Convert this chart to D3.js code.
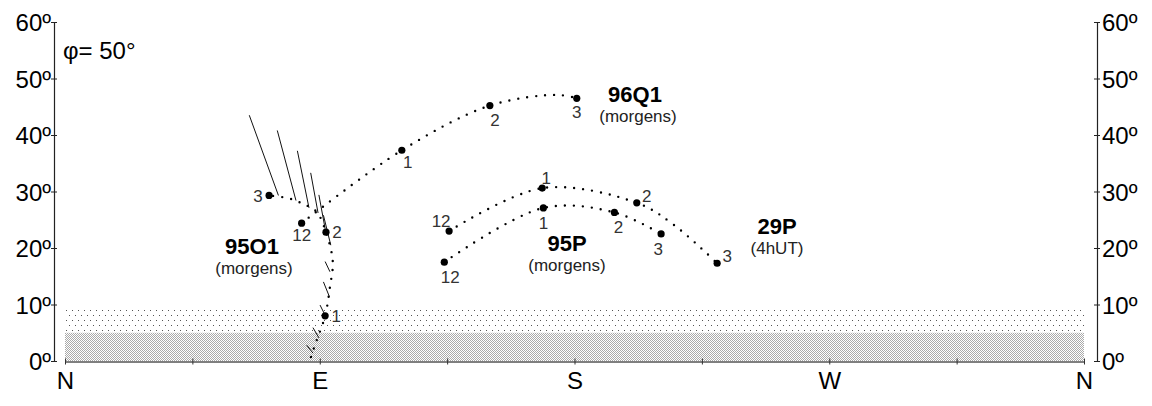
<!DOCTYPE html>
<html>
<head>
<meta charset="utf-8">
<script src="https://cdn.jsdelivr.net/npm/d3@7/dist/d3.min.js"></script>
<style>
  html, body { margin: 0; padding: 0; background: #fff; }
  svg { display: block; }
  text { font-family: "Liberation Sans", Arial, sans-serif; }
</style>
</head>
<body>
<svg id="chart" width="1152" height="406"></svg>
<script>
// Horizon axes
const azimuthTicks  = [0, 45, 90, 135, 180, 225, 270, 315, 360];
const compassLabels = ["N", "", "E", "", "S", "", "W", "", "N"];
const altitudeTicks = [0, 10, 20, 30, 40, 50, 60];

// Horizon haze bands (altitude, degrees)
const hazeDense = [0, 5];
const hazeLight = [5, 9.5];

// Comet tracks: azimuth / altitude (degrees), month marks ("" = no mark)
const q1Az   = [83.6, 119.0, 150.1, 173.7, 180.8];
const q1Alt  = [24.4, 37.3, 45.2, 47.1, 46.5];
const q1Mark = ["12", "1", "2", "", "3"];

const o1Az   = [86.9, 88.3, 91.9, 93.6, 94.6, 92.2, 88.9, 84.2, 78.9, 72.1];
const o1Alt  = [0.7, 2.8, 8.0, 13.1, 17.6, 22.8, 26.4, 27.8, 28.8, 29.3];
const o1Mark = ["", "", "1", "", "", "2", "", "", "", "3"];

const p29Az   = [135.7, 168.6, 202.0, 215.1, 230.4];
const p29Alt  = [23.0, 30.6, 28.0, 24.1, 17.3];
const p29Mark = ["12", "1", "2", "", "3"];

const p95Az   = [134.0, 169.0, 194.1, 210.6];
const p95Alt  = [17.5, 27.1, 26.3, 22.5];
const p95Mark = ["12", "1", "2", "3"];

// Tail of 95O1: base and tip of each tail line (azimuth / altitude)
const tailBaseAz  = [75.4, 81.6, 86.2, 89.4, 91.9, 93.9, 93.6, 93.4, 91.5, 89.7, 87.6];
const tailBaseAlt = [29.3, 28.4, 27.1, 26.2, 23.4, 20.5, 15.8, 11.4, 8.5, 4.1, 1.4];
const tailTipAz   = [65.1, 75.0, 82.1, 86.8, 89.7, 91.3, 91.9, 91.3, 90.1, 87.6, 85.4];
const tailTipAlt  = [43.5, 40.8, 37.2, 33.3, 29.4, 25.8, 17.6, 14.0, 9.9, 5.9, 2.8];

const svg = d3.select("#chart");
const x = d3.scaleLinear().domain([0, 360]).range([65, 1084]);
const y = d3.scaleLinear().domain([0, 60]).range([361, 22]);

// fill patterns for the haze bands
const defs = svg.append("defs");
const pDense = defs.append("pattern").attr("id", "dense")
  .attr("patternUnits", "userSpaceOnUse").attr("width", 2).attr("height", 2);
[[0, 0], [1, 1]].forEach(([px, py]) =>
  pDense.append("rect").attr("x", px).attr("y", py).attr("width", 1).attr("height", 1)
    .attr("fill", "#aaa").attr("shape-rendering", "crispEdges"));
const pLight = defs.append("pattern").attr("id", "light")
  .attr("patternUnits", "userSpaceOnUse").attr("width", 6).attr("height", 10);
pLight.append("rect").attr("x", 0).attr("y", 0).attr("width", 1).attr("height", 1).attr("fill", "#555");
pLight.append("rect").attr("x", 3).attr("y", 5).attr("width", 1).attr("height", 1).attr("fill", "#555");

svg.append("rect")
  .attr("x", x(0)).attr("width", x(360) - x(0))
  .attr("y", y(hazeLight[1])).attr("height", y(hazeLight[0]) - y(hazeLight[1]))
  .attr("fill", "url(#light)");
svg.append("rect")
  .attr("x", x(0)).attr("width", x(360) - x(0))
  .attr("y", y(hazeDense[1])).attr("height", y(hazeDense[0]) - y(hazeDense[1]))
  .attr("fill", "url(#dense)");

// altitude axes (left and right)
const degFmt = d => d + "º";
function styleAltAxis(g, side) {
  g.select(".domain").attr("stroke", "#222").attr("stroke-width", 1.2);
  g.selectAll(".tick line").attr("x1", -3).attr("x2", 3).attr("stroke", "#222");
  g.selectAll(".tick text")
    .attr("font-size", 24).attr("fill", "#000")
    .attr("x", side === "left" ? -3 : 5)
    .attr("dy", "0.36em")
    .attr("text-anchor", side === "left" ? "end" : "start");
}
svg.append("g").attr("transform", "translate(54,0)")
  .call(d3.axisLeft(y).tickValues(altitudeTicks).tickFormat(degFmt).tickSizeOuter(0))
  .call(g => styleAltAxis(g, "left"));
svg.append("g").attr("transform", "translate(1097,0)")
  .call(d3.axisRight(y).tickValues(altitudeTicks).tickFormat(degFmt).tickSizeOuter(0))
  .call(g => styleAltAxis(g, "right"));

// azimuth axis
svg.append("g").attr("transform", `translate(0,${y(0) + 0.5})`)
  .call(d3.axisBottom(x).tickValues(azimuthTicks)
    .tickFormat((d, i) => compassLabels[i]).tickSizeOuter(0))
  .call(g => {
    g.select(".domain").attr("stroke", "#555").attr("stroke-width", 1.6);
    g.selectAll(".tick line").attr("y1", -3).attr("y2", 3).attr("stroke", "#333");
    g.selectAll(".tick text").attr("font-size", 24).attr("fill", "#000")
      .attr("y", 10).attr("dy", "0.71em");
  });

// latitude note
svg.append("text").attr("x", 63).attr("y", 59)
  .attr("font-size", 24).text("φ= 50°");

// tail lines of 95O1
svg.append("g").selectAll("line")
  .data(tailBaseAz.map((a, i) => i))
  .join("line")
  .attr("x1", i => x(tailBaseAz[i])).attr("y1", i => y(tailBaseAlt[i]))
  .attr("x2", i => x(tailTipAz[i])).attr("y2", i => y(tailTipAlt[i]))
  .attr("stroke", "#111").attr("stroke-width", 1);

// label placement around month marks (pixels)
const markOffset = {
  q1:  { "12": [0, 12], "1": [6, 12], "2": [5, 14], "3": [0, 14] },
  o1:  { "1": [11, 0], "2": [11, 0], "3": [-11, 0] },
  p29: { "12": [-8, -10], "1": [4, -10], "2": [10, -7], "3": [10, -7] },
  p95: { "12": [6, 15], "1": [0, 15], "2": [4, 14], "3": [-3, 15] }
};

const tracks = [
  { key: "q1",  az: q1Az,  alt: q1Alt,  mark: q1Mark },
  { key: "o1",  az: o1Az,  alt: o1Alt,  mark: o1Mark },
  { key: "p29", az: p29Az, alt: p29Alt, mark: p29Mark },
  { key: "p95", az: p95Az, alt: p95Alt, mark: p95Mark }
];

const line = d3.line()
  .x(d => x(d[0])).y(d => y(d[1]))
  .curve(d3.curveCatmullRom.alpha(0.5));

tracks.forEach(t => {
  const pts = t.az.map((a, i) => [a, t.alt[i], t.mark[i]]);
  svg.append("path")
    .attr("d", line(pts))
    .attr("fill", "none")
    .attr("stroke", "#000")
    .attr("stroke-width", 2.4)
    .attr("stroke-linecap", "round")
    .attr("stroke-dasharray", "0 9");
  const marked = pts.filter(p => p[2] !== "");
  svg.append("g").selectAll("circle").data(marked).join("circle")
    .attr("cx", p => x(p[0])).attr("cy", p => y(p[1])).attr("r", 3.6)
    .attr("fill", "#000");
  svg.append("g").selectAll("text").data(marked).join("text")
    .attr("x", p => x(p[0]) + markOffset[t.key][p[2]][0])
    .attr("y", p => y(p[1]) + markOffset[t.key][p[2]][1])
    .attr("dy", "0.36em")
    .attr("text-anchor", "middle")
    .attr("font-family", "'Liberation Mono', 'DejaVu Sans Mono', monospace")
    .attr("font-size", 17)
    .attr("fill", "#333")
    .text(p => p[2]);
});

// comet names
const names    = ["96Q1", "95O1", "95P", "29P"];
const subnames = ["(morgens)", "(morgens)", "(morgens)", "(4hUT)"];
const namePos  = [[635, 102], [252, 254], [567, 251], [777, 234]];
const subPos   = [[638, 122], [254, 274], [567, 271], [777, 254]];
names.forEach((n, i) => {
  svg.append("text").attr("x", namePos[i][0]).attr("y", namePos[i][1])
    .attr("text-anchor", "middle").attr("font-size", 22).attr("font-weight", "bold")
    .text(n);
  svg.append("text").attr("x", subPos[i][0]).attr("y", subPos[i][1])
    .attr("text-anchor", "middle").attr("font-size", 17).attr("fill", "#222")
    .text(subnames[i]);
});
</script>
</body>
</html>
